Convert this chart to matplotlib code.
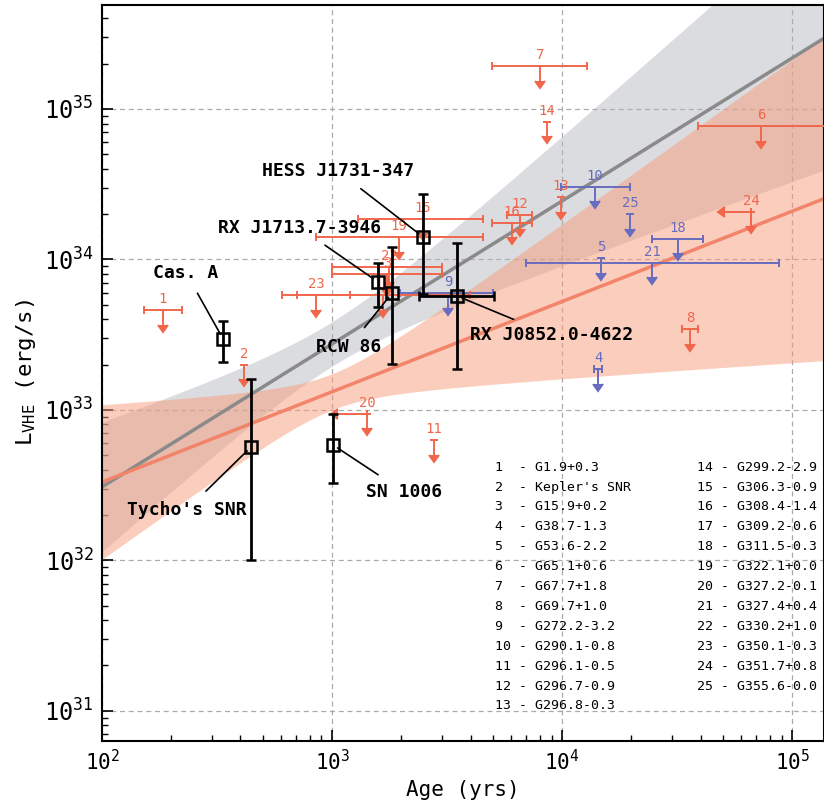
import numpy as np
import matplotlib
matplotlib.use("Agg")
import matplotlib.pyplot as plt
import matplotlib.lines as mlines

# ---------------- data ----------------
# detected SNRs (age in yrs, luminosity in erg/s)
det_names = ["Cas. A", "Tycho's SNR", "SN 1006", "RX J1713.7-3946",
             "RCW 86", "HESS J1731-347", "RX J0852.0-4622"]
det_age = [336, 445, 1009, 1585, 1824, 2488, 3490]
det_age_lo = [336, 445, 1009, 1585, 1824, 2488, 2390]
det_age_hi = [336, 445, 1009, 1585, 1824, 2488, 5060]
det_lum = [2.96e33, 5.67e32, 5.85e32, 7.08e33, 5.98e33, 1.41e34, 5.72e33]
det_lum_lo = [2.08e33, 1.0e32, 3.27e32, 4.8e33, 2.02e33, 5.9e33, 1.87e33]
det_lum_hi = [3.9e33, 1.61e33, 9.4e32, 9.5e33, 1.21e34, 2.72e34, 1.29e34]

# upper limits (ids 1..25)
ul_id = list(range(1, 26))
ul_age = [184, 414, 1734, 14400, 14800, 73300, 8020, 36100, 3190, 13900,
          2770, 6560, 9900, 8610, 2490, 6070, 1667, 31900, 1955, 1420,
          24600, 1770, 851, 66400, 19800]
ul_age_lo = [152, np.nan, 1000, 13800, np.nan, 39000, 4970, 33300, 1980, 9900,
             np.nan, 5770, np.nan, np.nan, 1300, 4970, 607, 24600, 851, 1060,
             6970, 1000, 705, 51100, np.nan]
ul_age_hi = [223, np.nan, 3010, 14900, np.nan, 1.6e5, 12850, 39000, 5010, 19800,
             np.nan, 7410, np.nan, np.nan, 4540, 7410, 3980, 41000, 4540, np.nan,
             87700, 3010, 1197, np.nan, np.nan]
ul_age_is_limit = [False] * 19 + [True] + [False] * 3 + [True, False]
ul_lum = [4.6e33, 1.99e33, 8.0e33, 1.87e33, 1.02e34, 7.7e34, 1.93e35, 3.45e33,
          5.98e33, 3.04e34, 6.3e32, 1.98e34, 2.6e34, 8.2e34, 1.86e34, 1.75e34,
          5.8e33, 1.37e34, 1.41e34, 9.4e32, 9.5e33, 8.9e33, 5.8e33, 2.07e34,
          2.0e34]
ul_group = ["r", "r", "r", "b", "b", "r", "r", "r", "b", "b",
            "r", "r", "r", "r", "r", "r", "r", "b", "r", "r",
            "b", "r", "r", "r", "b"]

ul_names = ["G1.9+0.3", "Kepler's SNR", "G15.9+0.2", "G38.7-1.3", "G53.6-2.2",
            "G65.1+0.6", "G67.7+1.8", "G69.7+1.0", "G272.2-3.2", "G290.1-0.8",
            "G296.1-0.5", "G296.7-0.9", "G296.8-0.3", "G299.2-2.9", "G306.3-0.9",
            "G308.4-1.4", "G309.2-0.6", "G311.5-0.3", "G322.1+0.0", "G327.2-0.1",
            "G327.4+0.4", "G330.2+1.0", "G350.1-0.3", "G351.7+0.8", "G355.6-0.0"]

# power-law fits: log L = A + B (log t - 3), 1-sigma band
gray_fit = dict(A=33.438, B=0.95, sA=0.148, sB=0.404)
salmon_fit = dict(A=33.12, B=0.60, sA=0.12, sB=0.50)

# ---------------- style ----------------
plt.rcParams["font.family"] = ["DejaVu Sans Mono"]
plt.rcParams["mathtext.fontset"] = "custom"
plt.rcParams["mathtext.rm"] = "DejaVu Sans Mono"
plt.rcParams["mathtext.it"] = "DejaVu Sans Mono:italic"
plt.rcParams["mathtext.bf"] = "DejaVu Sans Mono:bold"

RED = "#F0674C"
BLUE = "#676CBE"
colors = {"r": RED, "b": BLUE}

fig = plt.figure(figsize=(8.24, 8.02), dpi=100)
ax = fig.add_axes([0.1238, 0.0761, 0.8762, 0.9177])
ax.set_xscale("log")
ax.set_yscale("log")
ax.set_xlim(100, 1.377e5)
ax.set_ylim(6.3e30, 4.91e35)

# ---------------- bands ----------------
t_grid = np.logspace(2, np.log10(1.5e5), 300)
u = np.log10(t_grid) - 3
for fit, fc, alpha in [(gray_fit, "#b0b3b8", 0.45),
                       (salmon_fit, "#f89c7c", 0.5)]:
    mid = fit["A"] + fit["B"] * u
    sig = np.sqrt(fit["sA"] ** 2 + (fit["sB"] * u) ** 2)
    ax.fill_between(t_grid, 10 ** (mid - sig), 10 ** (mid + sig),
                    color=fc, alpha=alpha, lw=0, zorder=1)
for fit, lc in [(gray_fit, "#8a8a8a"), (salmon_fit, "#F2846A")]:
    mid = fit["A"] + fit["B"] * u
    ax.plot(t_grid, 10 ** mid, color=lc, lw=2.5, zorder=2)

# ---------------- upper limits ----------------
UL_FRAC = 0.2
caret_markers = {mlines.CARETDOWNBASE, mlines.CARETLEFTBASE}
for i in range(len(ul_id)):
    x, y = ul_age[i], ul_lum[i]
    c = colors[ul_group[i]]
    lo, hi = ul_age_lo[i], ul_age_hi[i]
    kw = dict(fmt="none", ecolor=c, elinewidth=1.4, capsize=3, capthick=1.4,
              uplims=True, zorder=3)
    if ul_age_is_limit[i]:
        xerr = [[x - lo], [0]]
        kw["xuplims"] = True
    elif not np.isnan(lo):
        xerr = [[x - lo], [hi - x]]
    else:
        xerr = None
    cont = ax.errorbar([x], [y], yerr=[[UL_FRAC * y], [0]], xerr=xerr, **kw)
    for cl in cont[1]:
        cl.set_markerfacecolor(c)
        cl.set_markeredgecolor(c)
        if cl.get_marker() in caret_markers:
            cl.set_markersize(6.5)
    ax.annotate(str(ul_id[i]), (x, y), xytext=(0, 8), textcoords="offset points",
                ha="center", va="center", color=c, fontsize=10, zorder=4)

# ---------------- detections ----------------
for i in range(len(det_names)):
    x, y = det_age[i], det_lum[i]
    xerr = None
    if det_age_hi[i] != det_age_lo[i]:
        xerr = [[x - det_age_lo[i]], [det_age_hi[i] - x]]
    ax.errorbar([x], [y], yerr=[[y - det_lum_lo[i]], [det_lum_hi[i] - y]],
                xerr=xerr, fmt="s", mfc="none", mec="black", mew=1.8, ms=8,
                ecolor="black", elinewidth=2, capsize=3.5, capthick=2, zorder=6)

det_text_pos = {
    "Cas. A": (232, 8.13e33),
    "Tycho's SNR": (234, 2.17e32),
    "SN 1006": (2056, 2.85e32),
    "RX J1713.7-3946": (726, 1.62e34),
    "RCW 86": (1186, 2.62e33),
    "HESS J1731-347": (1061, 3.87e34),
    "RX J0852.0-4622": (8960, 3.15e33),
}
for i, name in enumerate(det_names):
    ax.annotate(name, (det_age[i], det_lum[i]), xytext=det_text_pos[name],
                textcoords="data", ha="center", va="center", fontsize=13,
                fontweight="bold", color="black", zorder=7,
                arrowprops=dict(arrowstyle="-", color="black", lw=1.2,
                                shrinkA=7, shrinkB=4))

# ---------------- legend text ----------------
y0 = 0.372
dy = 0.02704
for i, (num, nm) in enumerate(zip(ul_id, ul_names)):
    if num <= 13:
        xx, yy = 0.544, y0 - dy * (num - 1)
    else:
        xx, yy = 0.824, y0 - dy * (num - 14)
    ax.text(xx, yy, f"{num:<2} - {nm}", transform=ax.transAxes, fontsize=9.5,
            ha="left", va="center", color="black", zorder=8)

# ---------------- axes ----------------
ax.grid(True, which="major", ls=(0, (4, 3)), color="#aaaaaa", lw=0.9)
ax.set_axisbelow(True)
ax.tick_params(which="both", direction="in", top=False, right=False)
ax.tick_params(which="major", length=8, width=1.2)
ax.tick_params(which="minor", length=4, width=1.0)
ax.tick_params(axis="x", labelsize=15, pad=6)
ax.tick_params(axis="y", labelsize=17, pad=6)
for s in ax.spines.values():
    s.set_linewidth(1.5)
ax.set_xlabel("Age (yrs)", fontsize=15)
ax.set_ylabel(r"L$_{\mathrm{VHE}}$ (erg/s)", fontsize=16)

fig.savefig("out.png", dpi=100)
